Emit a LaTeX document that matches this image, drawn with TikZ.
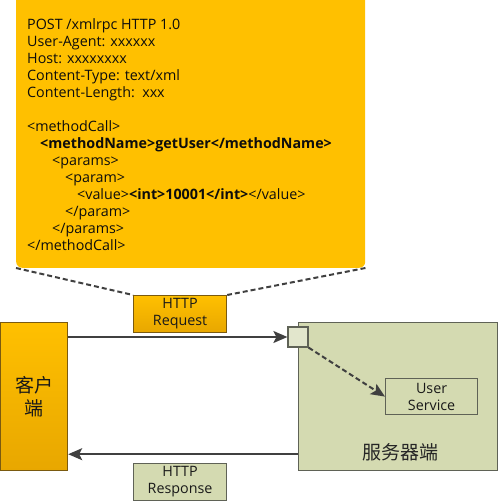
\documentclass[tikz,border=0pt]{standalone}
\usepackage{fontspec}
\setmainfont{Open Sans}
\newfontfamily\cjk{Noto Sans CJK SC}
\usepackage{xcolor}
\usetikzlibrary{arrows.meta,positioning,calc}

\definecolor{callout}{HTML}{FFC000}
\definecolor{goldtop}{HTML}{FFC000}
\definecolor{goldbot}{HTML}{E8A700}
\definecolor{goldline}{HTML}{7A5A10}
\definecolor{olivefill}{HTML}{D4DAB1}
\definecolor{oliveline}{HTML}{5F6256}
\definecolor{sqfill}{HTML}{E2E6CC}
\definecolor{arrgray}{HTML}{404040}

\begin{document}
\begin{tikzpicture}[
  x=1pt, y=-1pt,
  font=\fontsize{14.3}{17}\selectfont,
  blk/.style={draw, align=center, inner sep=2pt, text=black!90},
  gold/.style={blk, draw=goldline, top color=goldtop, bottom color=goldbot, line width=1.2pt},
  olive/.style={blk, draw=oliveline, fill=olivefill, line width=1.2pt},
  arr/.style={-{Stealth[length=14pt,width=12pt,inset=3pt]}, line width=1.6pt, draw=arrgray},
  dsh/.style={dash pattern=on 5pt off 3pt, line width=2pt, draw=arrgray}
]
\useasboundingbox (0,0) rectangle (500,501);

% Request callout
\node[fill=callout, rounded corners=6pt, minimum width=349pt, minimum height=280pt,
  anchor=south west, inner sep=0pt] (call) at (16,268) {};
\node[anchor=north west, align=left, inner sep=0pt, text=black!95] (msg) at (27,18) {%
  POST /xmlrpc HTTP 1.0\\
  User-Agent: xxxxxx\\
  Host: xxxxxxxx\\
  Content-Type: text/xml\\
  Content-Length:\ \ xxx\\[17pt]
  <methodCall>\\
  \hspace*{13pt}\textbf{<methodName>getUser</methodName>}\\
  \hspace*{25pt}<params>\\
  \hspace*{38pt}<param>\\
  \hspace*{50pt}<value>\textbf{<int>10001</int>}</value>\\
  \hspace*{38pt}</param>\\
  \hspace*{25pt}</params>\\
  </methodCall>};

% Client and request
\node[gold, minimum width=67pt, minimum height=148pt, anchor=north west,
  font=\cjk\fontsize{19}{23}\selectfont] (client) at (0,322) {客户\\端};
\node[gold, minimum width=93pt, minimum height=37pt, anchor=north west] (req) at (133,295) {HTTP\\Request};
\draw[dsh] (call.south west) -- (req.north west);
\draw[dsh] (call.south east) -- (req.north east);

% Server side
\node[olive, minimum width=199pt, minimum height=148pt, anchor=north west] (srv) at (298,322) {};
\node[font=\cjk\fontsize{19}{21}\selectfont, text=black!85] (srvlbl) at (400,452) {服务器端};
\node[olive, minimum width=92pt, minimum height=36pt, anchor=north west] (us) at (385,378) {User\\Service};
\node[olive, fill=sqfill, minimum size=20pt, inner sep=0pt] (sq) at (298,337) {};
\node[olive, minimum width=93pt, minimum height=37pt, anchor=north west] (resp) at (133,463) {HTTP\\Response};

% Messages
\draw[arr] (sq.west -| client.east) -- (sq.west);
\draw[arr, dsh] (sq.south east) -- (us.west);
\draw[arr] ([yshift=17pt]srv.south west) -- ([yshift=17pt]srv.south west -| client.east);
\end{tikzpicture}
\end{document}
